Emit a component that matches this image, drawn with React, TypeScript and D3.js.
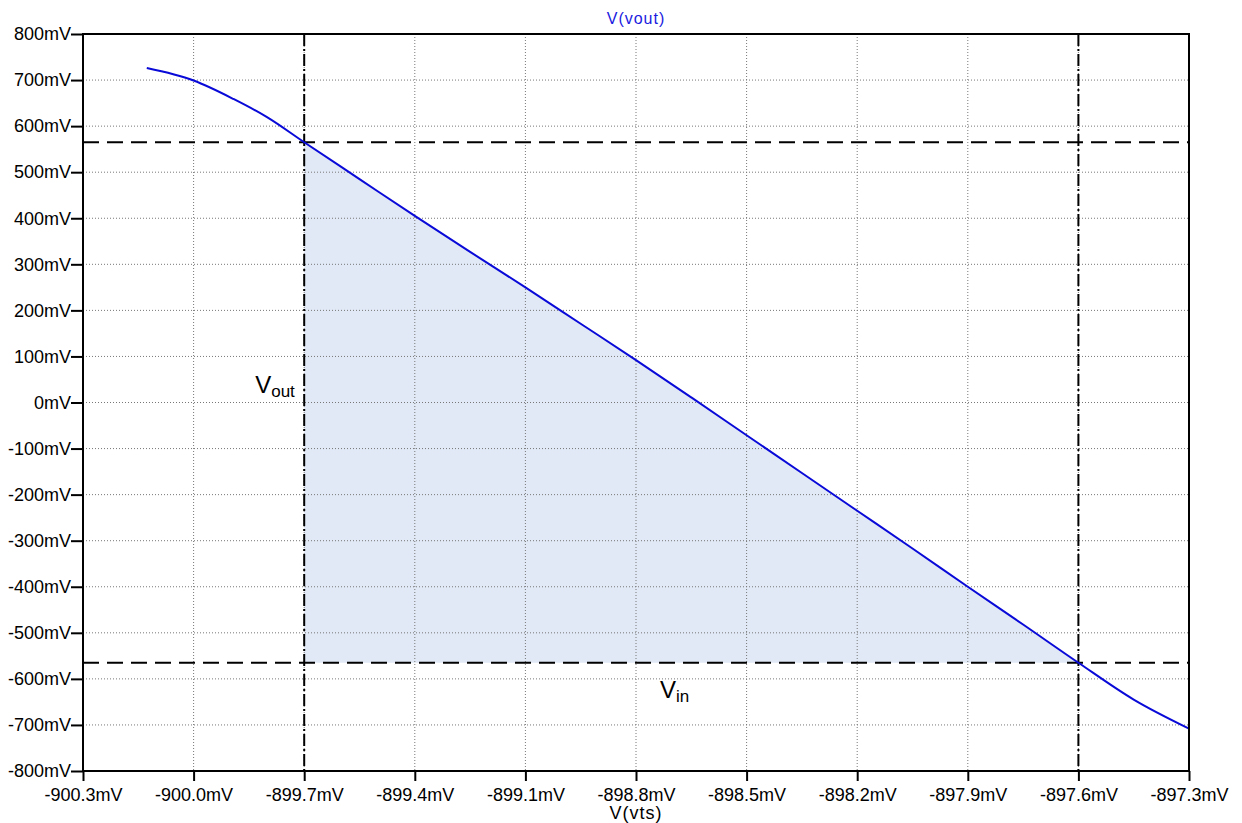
import React, { useEffect, useRef } from 'react';
import * as d3 from 'd3';

// sweep of V(vts) in mV and the resulting V(vout) in mV
const vts = [-900.127, -900.0, -899.892, -899.802, -899.7, -899.55, -899.4, -899.25, -899.1, -898.95, -898.8,
  -898.65, -898.5, -898.35, -898.2, -898.05, -897.9, -897.75, -897.6, -897.45, -897.3];
const vout = [726, 699, 659, 620, 565, 485, 405, 327, 250, 171, 92,
  11, -71, -153, -235, -317, -400, -482, -565, -645, -708];

const xTicks = [-900.3, -900.0, -899.7, -899.4, -899.1, -898.8, -898.5, -898.2, -897.9, -897.6, -897.3];
const yTicks = [800, 700, 600, 500, 400, 300, 200, 100, 0, -100, -200, -300, -400, -500, -600, -700, -800];

// cursor positions
const cursorX = [-899.7, -897.6];
const cursorY = [565, -565];

const W = 1242, H = 823;
const margin = { top: 34, right: 53, bottom: 52, left: 83 };
const FONT = '"Liberation Sans", Arial, sans-serif';

export default function App() {
  const ref = useRef<SVGSVGElement>(null);

  useEffect(() => {
    const svg = d3.select(ref.current);
    svg.selectAll('*').remove();

    const x = d3.scaleLinear().domain([-900.3, -897.3]).range([margin.left, W - margin.right]);
    const y = d3.scaleLinear().domain([-800, 800]).range([H - margin.bottom, margin.top]);
    const data = vts.map((v, i) => ({ x: v, y: vout[i] }));

    // shaded region between the cursors
    const inside = data.filter(d => d.x >= cursorX[0] && d.x <= cursorX[1]);
    const area = d3.area<{ x: number; y: number }>()
      .x(d => x(d.x))
      .y0(y(cursorY[1]))
      .y1(d => y(d.y))
      .curve(d3.curveMonotoneX);
    svg.append('path').datum(inside).attr('d', area).attr('fill', '#e1e9f6');

    // grid
    const grid = svg.append('g').attr('stroke', '#777').attr('stroke-width', 1).attr('stroke-dasharray', '1,2');
    xTicks.slice(1, -1).forEach(t => {
      grid.append('line').attr('x1', x(t)).attr('x2', x(t)).attr('y1', y(800)).attr('y2', y(-800));
    });
    yTicks.slice(1, -1).forEach(t => {
      grid.append('line').attr('x1', x(-900.3)).attr('x2', x(-897.3)).attr('y1', y(t)).attr('y2', y(t));
    });

    // cursors
    cursorY.forEach(v => {
      svg.append('line').attr('x1', x(-900.3)).attr('x2', x(-897.3)).attr('y1', y(v)).attr('y2', y(v))
        .attr('stroke', '#000').attr('stroke-width', 2).attr('stroke-dasharray', '16,8');
    });
    cursorX.forEach(v => {
      svg.append('line').attr('x1', x(v)).attr('x2', x(v)).attr('y1', y(800)).attr('y2', y(-800))
        .attr('stroke', '#000').attr('stroke-width', 2).attr('stroke-dasharray', '12,3,2,3');
    });

    // trace
    const line = d3.line<{ x: number; y: number }>().x(d => x(d.x)).y(d => y(d.y)).curve(d3.curveMonotoneX);
    svg.append('path').datum(data).attr('d', line).attr('fill', 'none')
      .attr('stroke', '#0a0ad8').attr('stroke-width', 2);

    // frame
    svg.append('rect').attr('x', x(-900.3)).attr('y', y(800))
      .attr('width', x(-897.3) - x(-900.3)).attr('height', y(-800) - y(800))
      .attr('fill', 'none').attr('stroke', '#000').attr('stroke-width', 2);

    // axes
    const yAxis = svg.append('g').attr('transform', `translate(${x(-900.3)},0)`)
      .call(d3.axisLeft(y).tickValues(yTicks).tickSize(12).tickSizeOuter(0).tickPadding(0)
        .tickFormat(d => `${d}mV`));
    const xAxis = svg.append('g').attr('transform', `translate(0,${y(-800)})`)
      .call(d3.axisBottom(x).tickValues(xTicks).tickSize(10).tickSizeOuter(0).tickPadding(7)
        .tickFormat(d => `${(+d).toFixed(1)}mV`));
    [yAxis, xAxis].forEach(a => {
      a.select('.domain').remove();
      a.selectAll('line').attr('stroke', '#000').attr('stroke-width', 2);
      a.selectAll('text').attr('fill', '#000').style('font-family', FONT).style('font-size', '18px');
    });

    // titles
    svg.append('text').attr('x', (x(-900.3) + x(-897.3)) / 2).attr('y', 24).attr('text-anchor', 'middle')
      .style('font-family', FONT).style('font-size', '16px').style('letter-spacing', '1px')
      .attr('fill', '#1a1ae0').text('V(vout)');
    svg.append('text').attr('x', (x(-900.3) + x(-897.3)) / 2).attr('y', 819).attr('text-anchor', 'middle')
      .style('font-family', FONT).style('font-size', '18px').style('letter-spacing', '1px')
      .attr('fill', '#000').text('V(vts)');

    // annotations
    const vo = svg.append('text').attr('x', x(cursorX[0]) - 49).attr('y', y(0) - 10)
      .style('font-family', FONT).attr('fill', '#000');
    vo.append('tspan').style('font-size', '24px').text('V');
    vo.append('tspan').style('font-size', '17px').attr('dy', 4).text('out');
    const vi = svg.append('text').attr('x', 660).attr('y', y(cursorY[1]) + 35)
      .style('font-family', FONT).attr('fill', '#000');
    vi.append('tspan').style('font-size', '24px').text('V');
    vi.append('tspan').style('font-size', '17px').attr('dy', 4).text('in');
  }, []);

  return (
    <div style={{ position: 'absolute', left: 0, top: 0 }}>
      <svg ref={ref} width={W} height={H} style={{ display: 'block', background: '#fff' }} />
    </div>
  );
}
